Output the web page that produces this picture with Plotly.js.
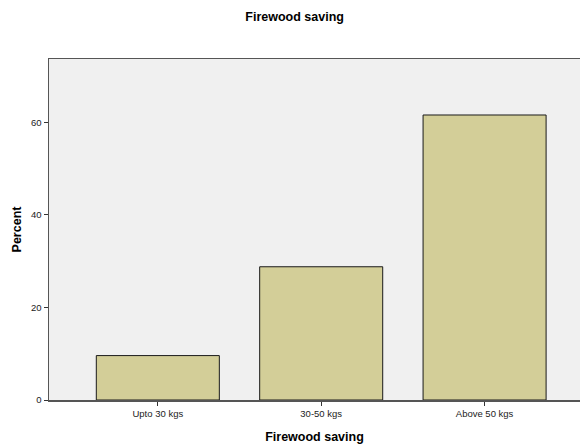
<!DOCTYPE html>
<html>
<head>
<meta charset="utf-8">
<script src="https://cdn.plot.ly/plotly-3.0.1.min.js"></script>
<style>html,body{margin:0;padding:0;background:#fff}#chart{width:580px;height:445px}</style>
</head>
<body>
<div id="chart"></div>
<script>
const categories = ["Upto 30 kgs", "30-50 kgs", "Above 50 kgs"];
const percents = [9.6, 28.8, 61.6];
const tickVals = [0, 20, 40, 60];

const trace = {
  type: "bar",
  x: categories,
  y: percents,
  width: 0.753,
  marker: {color: "#d3ce98", line: {color: "#1a1a1a", width: 1}},
  hoverinfo: "none"
};

const layout = {
  width: 580, height: 445,
  margin: {l: 49, r: 0, t: 59, b: 45},
  paper_bgcolor: "#ffffff",
  plot_bgcolor: "#f0f0f0",
  font: {family: "Liberation Sans, Arial, sans-serif", color: "#222"},
  title: {text: "<b>Firewood saving</b>", x: 0.508, xref: "container", y: 0.962, yref: "container", yanchor: "middle",
          font: {size: 12.5, color: "#000"}},
  showlegend: false,
  bargap: 0.25,
  xaxis: {
    type: "category",
    range: [-0.666, 2.584],
    showline: true, linecolor: "#555", linewidth: 1.5, mirror: true,
    ticks: "outside", ticklen: 4, tickcolor: "#333", tickwidth: 1,
    tickfont: {size: 9.5, color: "#222"},
    showgrid: false, zeroline: false,
    title: {text: "<b>Firewood saving</b>", font: {size: 12.5, color: "#000"}, standoff: 14}
  },
  yaxis: {
    range: [0, 73.7],
    tickvals: tickVals,
    showline: true, linecolor: "#555", linewidth: 1.5,
    ticks: "outside", ticklen: 4, tickcolor: "#333", tickwidth: 1,
    tickfont: {size: 9.5, color: "#222"},
    showgrid: false, zeroline: false,
    title: {text: "<b>Percent</b>", font: {size: 12.5, color: "#000"}, standoff: 6}
  }
};

Plotly.newPlot("chart", [trace], layout, {displayModeBar: false, staticPlot: true});
</script>
</body>
</html>
